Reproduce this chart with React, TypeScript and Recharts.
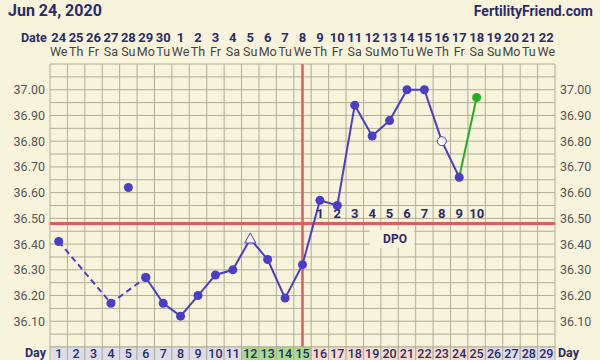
import React from "react";
import { ComposedChart, Line, XAxis, YAxis, ReferenceLine, ReferenceDot } from "recharts";

// cycle days and the calendar above them
const DAYS = [1, 2, 3, 4, 5, 6, 7, 8, 9, 10, 11, 12, 13, 14, 15, 16, 17, 18, 19, 20, 21, 22, 23, 24, 25, 26, 27, 28, 29];
const DATES = ["24", "25", "26", "27", "28", "29", "30", "1", "2", "3", "4", "5", "6", "7", "8", "9", "10", "11", "12", "13", "14", "15", "16", "17", "18", "19", "20", "21", "22"];
const WEEKDAYS = ["We", "Th", "Fr", "Sa", "Su", "Mo", "Tu", "We", "Th", "Fr", "Sa", "Su", "Mo", "Tu", "We", "Th", "Fr", "Sa", "Su", "Mo", "Tu", "We", "Th", "Fr", "Sa", "Su", "Mo", "Tu", "We"];

// BBT readings, day 1..25 (null = no reading)
const TEMPS: (number | null)[] = [36.41, null, null, 36.17, 36.62, 36.27, 36.17, 36.12, 36.2, 36.28, 36.3, 36.42, 36.34, 36.19, 36.32, 36.57, 36.55, 36.94, 36.82, 36.88, 37.0, 37.0, 36.8, 36.66, 36.97];
const DASHED_DAYS = [1, 4, 6];
const LONE_DAYS = [5];
const SOLID_FROM = 6;
const SOLID_TO = 24;
const GREEN_DAYS = [24, 25];
const OPEN_TRIANGLE_DAY = 12;
const OPEN_CIRCLE_DAY = 23;

const COVERLINE = 36.48;
const OVULATION_DAY = 15;
const FERTILE_DAYS = [12, 13, 14, 15];
const LUTEAL_DAYS = [16, 17, 18, 19, 20, 21, 22, 23, 24, 25];
const DPO_LABELS = ["1", "2", "3", "4", "5", "6", "7", "8", "9", "10"];
const Y_TICKS = [36.1, 36.2, 36.3, 36.4, 36.5, 36.6, 36.7, 36.8, 36.9, 37.0];

const C = {
  bg: "#f8f4dc",
  grid: "#b2ad94",
  navy: "#2b2b68",
  label: "#555555",
  line: "#4a3ec6",
  red: "#e05c5c",
  green: "#26ad26",
  cellBlue: "#dcdcea",
  cellGreen: "#a8dd8e",
  cellPeach: "#f8dccb",
};

const LEFT_W = 50;
const RIGHT_W = 45;
const CELL_W = (600 - LEFT_W - RIGHT_W) / DAYS.length;
const DPO_Y = 36.52;

const H_GRID = Array.from({ length: 23 }, (_, i) => +(36 + i * 0.05).toFixed(2));
const V_GRID = Array.from({ length: 30 }, (_, i) => i + 0.5);

const rows = DAYS.map((day) => {
  const t = TEMPS[day - 1] ?? null;
  const dpoIdx = LUTEAL_DAYS.indexOf(day);
  return {
    day,
    dashed: DASHED_DAYS.includes(day) ? t : null,
    solid: day >= SOLID_FROM && day <= SOLID_TO ? t : null,
    green: GREEN_DAYS.includes(day) ? t : null,
    lone: LONE_DAYS.includes(day) ? t : null,
    dpo: dpoIdx >= 0 ? DPO_LABELS[dpoIdx] : null,
    dpoY: dpoIdx >= 0 ? DPO_Y : null,
  };
});

const filledDot = (color: string) => (p: any) => {
  if (p.value == null || p.cy == null) return <g key={p.key} />;
  return <circle key={p.key} cx={p.cx} cy={p.cy} r={4.5} fill={color} />;
};

const solidDot = (p: any) => {
  if (p.value == null || p.cy == null) return <g key={p.key} />;
  const d = p.payload.day;
  if (d === OPEN_TRIANGLE_DAY) {
    const { cx, cy } = p;
    return (
      <polygon key={p.key} points={`${cx},${cy - 6} ${cx - 5.5},${cy + 4} ${cx + 5.5},${cy + 4}`} fill="#fff" stroke={C.line} strokeWidth={1} />
    );
  }
  if (d === OPEN_CIRCLE_DAY) {
    return <circle key={p.key} cx={p.cx} cy={p.cy} r={4.5} fill="#fff" stroke={C.line} strokeWidth={1} />;
  }
  return <circle key={p.key} cx={p.cx} cy={p.cy} r={4.5} fill={C.line} />;
};

const greenDot = (p: any) => {
  if (p.value == null || p.cy == null || p.payload.day !== 25) return <g key={p.key} />;
  return <circle key={p.key} cx={p.cx} cy={p.cy} r={4.5} fill={C.green} />;
};

const dpoDot = (p: any) => {
  if (p.value == null || p.cy == null) return <g key={p.key} />;
  return (
    <text key={p.key} x={p.cx} y={p.cy + 5} textAnchor="middle" fontSize={13} fontWeight={700} fill={C.navy}>
      {p.payload.dpo}
    </text>
  );
};

const DateTick = ({ x, y, payload }: any) => {
  const i = payload.value - 1;
  return (
    <g>
      <text x={x} y={y - 22} textAnchor="middle" fontSize={13} fontWeight={700} fill={C.navy}>
        {DATES[i]}
      </text>
      <text x={x} y={y - 8} textAnchor="middle" fontSize={12.5} fill="#444">
        {WEEKDAYS[i]}
      </text>
    </g>
  );
};

const DayTick = ({ x, y, payload }: any) => {
  const d = payload.value;
  const fill = FERTILE_DAYS.includes(d) ? C.cellGreen : LUTEAL_DAYS.includes(d) ? C.cellPeach : C.cellBlue;
  return (
    <g>
      <rect x={x - CELL_W / 2} y={y} width={CELL_W} height={14} fill={fill} stroke={C.grid} strokeWidth={1} />
      <text x={x} y={y + 11} textAnchor="middle" fontSize={12.5} fontWeight={500} fill={C.navy}>
        {d}
      </text>
    </g>
  );
};

const DpoBox = ({ cx, cy }: any) => (
  <g>
    <rect x={cx - 22} y={cy - 9} width={44} height={18} fill={C.bg} />
    <text x={cx + 3} y={cy + 4.5} textAnchor="middle" fontSize={12} fontWeight={700} fill={C.navy}>
      DPO
    </text>
  </g>
);

const tickStyle = { fontSize: 12.5, fill: C.label };

export default function App() {
  return (
    <div style={{ position: "fixed", left: 0, top: 0, width: 600, height: 360, background: C.bg, fontFamily: "Roboto, sans-serif", overflow: "hidden" }}>
      <ComposedChart width={600} height={360} data={rows} margin={{ top: 0, right: 0, bottom: 0, left: 0 }} style={{ fontFamily: "Roboto, sans-serif" }}>
        <XAxis xAxisId="t" orientation="top" dataKey="day" type="number" domain={[0.5, 29.5]} ticks={DAYS} interval={0} height={64} axisLine={false} tickLine={false} tickSize={0} tickMargin={0} tick={<DateTick />} />
        <XAxis xAxisId="d" orientation="bottom" dataKey="day" type="number" domain={[0.5, 29.5]} ticks={DAYS} interval={0} height={13} axisLine={false} tickLine={false} tickSize={0} tickMargin={0} tick={<DayTick />} />
        <YAxis yAxisId="l" orientation="left" type="number" domain={[36.0, 37.1]} allowDataOverflow ticks={Y_TICKS} width={LEFT_W} axisLine={false} tickLine={false} tickSize={3} tickMargin={2} tick={tickStyle} tickFormatter={(v) => v.toFixed(2)} />
        <YAxis yAxisId="r" orientation="right" type="number" domain={[36.0, 37.1]} allowDataOverflow ticks={Y_TICKS} width={RIGHT_W} axisLine={false} tickLine={false} tickSize={3} tickMargin={2} tick={tickStyle} tickFormatter={(v) => v.toFixed(2)} />

        {H_GRID.map((v) => (
          <ReferenceLine key={"h" + v} xAxisId="t" yAxisId="l" y={v} stroke={C.grid} strokeWidth={1} />
        ))}
        {V_GRID.map((v) => (
          <ReferenceLine key={"v" + v} xAxisId="t" yAxisId="l" x={v} stroke={C.grid} strokeWidth={1} />
        ))}

        <ReferenceDot xAxisId="t" yAxisId="l" x={20.14} y={36.42} r={0} shape={<DpoBox />} />

        <ReferenceLine xAxisId="t" yAxisId="l" y={COVERLINE} stroke={C.red} strokeWidth={3} />
        <ReferenceLine xAxisId="t" yAxisId="l" x={OVULATION_DAY} stroke={C.red} strokeWidth={2.5} />

        <Line xAxisId="t" yAxisId="l" dataKey="dashed" connectNulls stroke={C.line} strokeWidth={2} strokeDasharray="6 4" dot={filledDot(C.line)} isAnimationActive={false} />
        <Line xAxisId="t" yAxisId="l" dataKey="solid" stroke={C.line} strokeWidth={2} dot={solidDot} isAnimationActive={false} />
        <Line xAxisId="t" yAxisId="l" dataKey="green" stroke={C.green} strokeWidth={2} dot={greenDot} isAnimationActive={false} />
        <Line xAxisId="t" yAxisId="l" dataKey="lone" stroke="none" dot={filledDot(C.line)} isAnimationActive={false} />
        <Line xAxisId="t" yAxisId="l" dataKey="dpoY" stroke="none" dot={dpoDot} isAnimationActive={false} />
      </ComposedChart>

      <div style={{ position: "absolute", left: 8, top: 1, fontSize: 16, fontWeight: 700, color: C.navy }}>Jun 24, 2020</div>
      <div style={{ position: "absolute", right: 7, top: 3, fontSize: 14, fontWeight: 700, color: C.navy }}>FertilityFriend.com</div>
      <div style={{ position: "absolute", left: 21, top: 30, fontSize: 12.5, fontWeight: 700, color: C.navy }}>Date</div>
      <div style={{ position: "absolute", left: 25, top: 345, fontSize: 12.5, fontWeight: 700, color: C.navy }}>Day</div>
      <div style={{ position: "absolute", left: 558, top: 345, fontSize: 12.5, fontWeight: 700, color: C.navy }}>Day</div>
    </div>
  );
}
